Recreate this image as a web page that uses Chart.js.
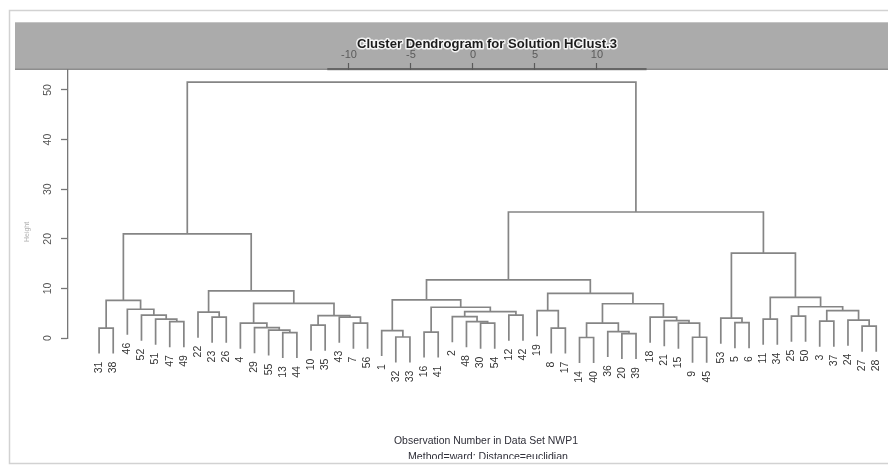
<!DOCTYPE html>
<html>
<head>
<meta charset="utf-8">
<script src="https://cdn.jsdelivr.net/npm/chart.js@4.4.1/dist/chart.umd.min.js"></script>
<style>
  html, body { margin: 0; padding: 0; background: #fff; }
  #wrap { position: relative; width: 888px; height: 466px; }
</style>
</head>
<body>
<div id="wrap"><canvas id="c" width="888" height="466"></canvas></div>
<script>
// Observation numbers in left-to-right leaf order
const leafLabels = [31, 38, 46, 52, 51, 47, 49, 22, 23, 26, 4, 29, 55, 13, 44, 10, 35, 43, 7, 56,
  1, 32, 33, 16, 41, 2, 48, 30, 54, 12, 42, 19, 8, 17, 14, 40, 36, 20, 39, 18, 21, 15, 9, 45,
  53, 5, 6, 11, 34, 25, 50, 3, 37, 24, 27, 28];

// Agglomeration steps (hclust convention): negative = observation, positive = earlier step (1-based)
const mergePairs = [
  [-31, -38], [-47, -49], [-51, 2], [-52, 3], [-46, 4], [1, 5],
  [-23, -26], [-22, 7], [-13, -44], [-55, 9], [-29, 10], [-4, 11],
  [-10, -35], [-7, -56], [-43, 14], [13, 15], [12, 16], [8, 17], [6, 18],
  [-32, -33], [-1, 20], [-16, -41], [-30, -54], [-48, 23], [-2, 24], [-12, -42],
  [25, 26], [22, 27], [21, 28], [-8, -17], [-19, 30], [-14, -40], [-20, -39],
  [-36, 33], [32, 34], [-9, -45], [-15, 36], [-21, 37], [-18, 38], [35, 39],
  [31, 40], [29, 41], [-5, -6], [-53, 43], [-11, -34], [-25, -50], [-3, -37],
  [-27, -28], [-24, 48], [47, 49], [46, 50], [45, 51], [44, 52], [42, 53], [19, 54]
];

// Fusion height of each step
const mergeHeights = [
  2.0, 3.3, 3.8, 4.6, 5.8, 7.6,
  4.2, 5.2, 1.1, 1.6, 2.1, 3.0,
  2.6, 3.0, 4.2, 4.5, 7.0, 9.5, 21.0,
  0.2, 1.5, 1.2, 3.0, 3.3, 4.3, 4.6,
  5.3, 6.2, 7.7, 2.0, 5.5, 0.1, 0.9,
  1.3, 3.0, 0.15, 3.0, 3.5, 4.2, 6.9,
  9.0, 11.7, 3.1, 4.0, 3.8, 4.4, 3.4,
  2.4, 3.6, 5.5, 6.3, 8.2, 17.1, 25.4, 51.6
];

const yTicks = [0, 10, 20, 30, 40, 50];
const topTicks = [-10, -5, 0, 5, 10];
const topAxisSpan = [-11.75, 14];

const titleText = 'Cluster Dendrogram for Solution HClust.3';
const xAxisTitle = 'Observation Number in Data Set NWP1';
const subTitle = 'Method=ward; Distance=euclidian';
const yAxisTitle = 'Height';

// ---- tree geometry from the merge table ----
const hang = 0.1 * (Math.max(...mergeHeights) - Math.min(...mergeHeights));
const leafPos = {};
leafLabels.forEach((n, i) => { leafPos[n] = i; });
const nodeX = [];
const leafEnd = {};
const datasets = [];
mergePairs.forEach((pair, k) => {
  const h = mergeHeights[k];
  const ends = pair.map(c => {
    if (c < 0) {
      leafEnd[-c] = h - hang;
      return { x: leafPos[-c], y: h - hang };
    }
    return { x: nodeX[c - 1], y: mergeHeights[c - 1] };
  });
  nodeX[k] = (ends[0].x + ends[1].x) / 2;
  datasets.push({
    data: [ends[0], { x: ends[0].x, y: h }, { x: ends[1].x, y: h }, ends[1]],
    showLine: true,
    borderColor: '#858585',
    borderWidth: 1.7,
    pointRadius: 0,
    fill: false,
    tension: 0,
    clip: false
  });
});

const PAD_L = 20;
const FONT = '"Liberation Sans", Arial, sans-serif';

function fitText(ctx, text, cx, cy, width) {
  const w = ctx.measureText(text).width;
  ctx.save();
  ctx.translate(cx, cy);
  ctx.scale(width / w, 1);
  ctx.fillText(text, 0, 0);
  ctx.restore();
}

const decor = {
  id: 'decor',
  beforeDraw(chart) {
    const ctx = chart.ctx;
    ctx.save();
    ctx.fillStyle = '#ffffff';
    ctx.fillRect(0, 0, chart.width, chart.height);
    // outer panel
    ctx.strokeStyle = '#d2d2d2';
    ctx.lineWidth = 1.5;
    ctx.strokeRect(9.5, 10.5, 885, 453);
    // header band
    ctx.fillStyle = '#ababab';
    ctx.fillRect(15, 22, 873, 48);
    ctx.fillStyle = '#c4c4c4';
    ctx.fillRect(15, 22, 873, 1);
    ctx.fillStyle = '#8d8d8d';
    ctx.fillRect(15, 68.5, 873, 1.5);
    // top axis line
    const x2 = chart.scales.x2;
    ctx.fillStyle = '#666666';
    const a = x2.getPixelForValue(topAxisSpan[0]);
    const b = x2.getPixelForValue(topAxisSpan[1]);
    ctx.fillRect(a, 68, b - a, 2.2);
    ctx.restore();
  },
  afterDraw(chart) {
    const ctx = chart.ctx;
    const xs = chart.scales.x, ys = chart.scales.y;
    ctx.save();
    // leaf labels, rotated, hanging below each leaf
    ctx.fillStyle = '#333333';
    ctx.font = '10.5px ' + FONT;
    ctx.textAlign = 'right';
    ctx.textBaseline = 'middle';
    leafLabels.forEach(n => {
      const px = xs.getPixelForValue(leafPos[n]);
      const py = ys.getPixelForValue(leafEnd[n]) + 8;
      ctx.save();
      ctx.translate(px, py);
      ctx.rotate(-Math.PI / 2);
      ctx.fillText(String(n), 0, 0);
      ctx.restore();
    });
    // y tick labels
    ctx.fillStyle = '#555555';
    ctx.font = '10.5px ' + FONT;
    ctx.textAlign = 'center';
    ys.ticks.forEach(t => {
      const py = ys.getPixelForValue(t.value);
      ctx.save();
      ctx.translate(48, py);
      ctx.rotate(-Math.PI / 2);
      ctx.fillText(String(t.value), 0, 0);
      ctx.restore();
    });
    // y axis title
    ctx.fillStyle = '#b0b0b0';
    ctx.font = '7px ' + FONT;
    ctx.save();
    ctx.translate(27, 232);
    ctx.rotate(-Math.PI / 2);
    ctx.fillText(yAxisTitle, 0, 0);
    ctx.restore();
    // main title with light halo
    ctx.font = 'bold 13.5px ' + FONT;
    ctx.textAlign = 'center';
    ctx.textBaseline = 'middle';
    const tw = ctx.measureText(titleText).width;
    ctx.save();
    ctx.translate(487, 44);
    ctx.scale(260 / tw, 1);
    ctx.strokeStyle = 'rgba(255,255,255,0.85)';
    ctx.lineWidth = 3;
    ctx.lineJoin = 'round';
    ctx.strokeText(titleText, 0, 0);
    ctx.fillStyle = '#1c1c1c';
    ctx.fillText(titleText, 0, 0);
    ctx.restore();
    // x axis title and method line
    ctx.fillStyle = '#2e2e38';
    ctx.font = '11px ' + FONT;
    fitText(ctx, xAxisTitle, 486, 441, 184);
    ctx.save();
    ctx.beginPath();
    ctx.rect(0, 440, chart.width, 19);
    ctx.clip();
    fitText(ctx, subTitle, 488, 457, 160);
    ctx.restore();
    ctx.restore();
  }
};

new Chart(document.getElementById('c'), {
  type: 'scatter',
  data: { datasets },
  options: {
    responsive: false,
    animation: false,
    events: [],
    layout: { padding: { left: PAD_L, right: 4, top: 0, bottom: 128 } },
    plugins: { legend: { display: false }, tooltip: { enabled: false }, title: { display: false } },
    scales: {
      x: { type: 'linear', display: false, min: -2.2, max: 55.55 },
      x2: {
        type: 'linear', position: 'top', min: -32.66, max: 33.15,
        afterBuildTicks: s => { s.ticks = topTicks.map(v => ({ value: v })); },
        ticks: { color: '#5a5a5a', font: { family: FONT, size: 11 }, padding: 1, autoSkip: false, maxRotation: 0 },
        grid: { drawOnChartArea: false, tickLength: 7, tickColor: '#5a5a5a', tickWidth: 1.2 },
        border: { display: false },
        afterFit: s => { s.height = 70; }
      },
      y: {
        type: 'linear', min: 0, max: 54.03,
        afterBuildTicks: s => { s.ticks = yTicks.map(v => ({ value: v })); },
        ticks: { display: false },
        grid: { drawOnChartArea: false, tickLength: 7, tickColor: '#777777', tickWidth: 1.3 },
        border: { display: true, color: '#777777', width: 1.3 },
        afterFit: s => { s.width = 68 - PAD_L; }
      }
    }
  },
  plugins: [decor]
});
</script>
</body>
</html>
